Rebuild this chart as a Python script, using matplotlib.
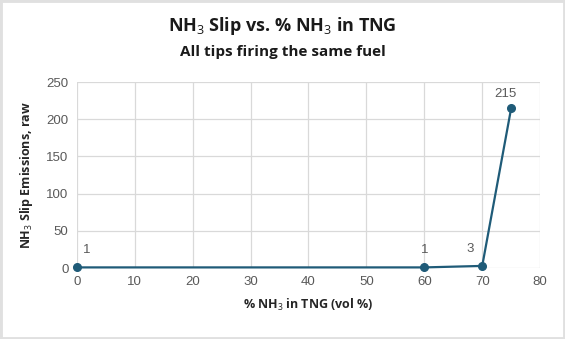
import matplotlib
matplotlib.use("Agg")
import matplotlib.pyplot as plt
from matplotlib.patches import Rectangle

plt.rcParams['font.family'] = ['Open Sans', 'DejaVu Sans']
plt.rcParams['mathtext.fontset'] = 'custom'
plt.rcParams['mathtext.rm'] = 'Open Sans'
plt.rcParams['mathtext.bf'] = 'Open Sans:bold'

x_vals = [0, 60, 70, 75]
y_vals = [1, 1, 3, 215]
point_labels = ["1", "1", "3", "215"]
x_ticks = [0, 10, 20, 30, 40, 50, 60, 70, 80]
y_ticks = [0, 50, 100, 150, 200, 250]

line_color = '#1f5b78'

fig = plt.figure(figsize=(5.65, 3.39), dpi=100)
fig.patch.set_facecolor('white')
fig.patches.append(Rectangle((0, 0), 1, 1, transform=fig.transFigure,
                             fill=False, edgecolor='#e0e0e0', linewidth=3.5, zorder=10))

ax = fig.add_axes([0.136, 0.209, 0.820, 0.549])
ax.plot(x_vals, y_vals, color=line_color, linewidth=1.6, marker='o',
        markersize=5.5, zorder=3, clip_on=False)

offsets = [(7, 8), (0, 8), (-9, 8), (-4, 6)]
for xv, yv, lab, off in zip(x_vals, y_vals, point_labels, offsets):
    ax.annotate(lab, (xv, yv), xytext=off, textcoords='offset points',
                ha='center', va='bottom', fontsize=9.5, color='#595959',
                family='Liberation Sans')

ax.set_xlim(0, 80)
ax.set_ylim(0, 250)
ax.set_xticks(x_ticks)
ax.set_yticks(y_ticks)
ax.grid(True, color='#d9d9d9', linewidth=0.9)
ax.set_axisbelow(True)
for s in ax.spines.values():
    s.set_visible(False)
ax.tick_params(length=0, labelsize=9.5, labelcolor='#595959', pad=6)
for lab in ax.get_xticklabels() + ax.get_yticklabels():
    lab.set_family('Liberation Sans')

ax.set_xlabel(r'% NH$_3$ in TNG (vol %)', fontsize=9, fontweight='bold',
              color='#262626', labelpad=6)
ax.set_ylabel(r'NH$_3$ Slip Emissions, raw', fontsize=9, fontweight='bold',
              color='#262626', labelpad=8)

fig.text(0.5, 0.922, r'NH$_3$ Slip vs. % NH$_3$ in TNG', ha='center', va='center',
         fontsize=13, fontweight='bold', color='#1a1a1a')
fig.text(0.5, 0.847, 'All tips firing the same fuel', ha='center', va='center',
         fontsize=11, fontweight='bold', color='#1a1a1a')

fig.savefig('out.png', dpi=100)
